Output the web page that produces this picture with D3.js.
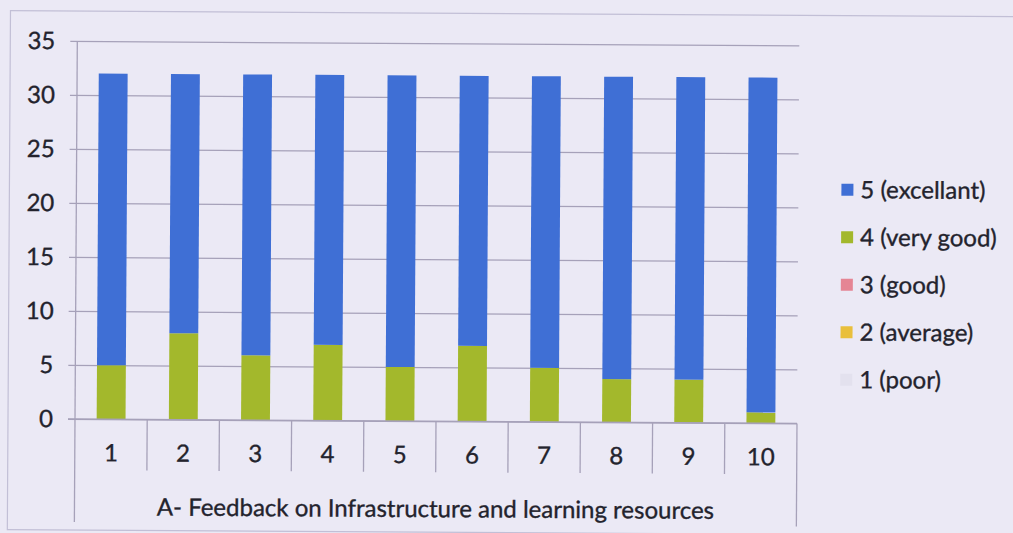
<!DOCTYPE html>
<html>
<head>
<meta charset="utf-8">
<script src="https://cdn.jsdelivr.net/npm/d3@7/dist/d3.min.js"></script>
<style>
  html, body { margin: 0; padding: 0; background: #ebe9f5; }
  svg { display: block; }
  text { font-family: Lato, "Open Sans", sans-serif; fill: #23232d; stroke: #23232d; stroke-width: 0.35px; }
</style>
</head>
<body>
<svg id="chart" width="1013" height="533"></svg>
<script>
// Survey categories (questions 1-10) and counts per rating
const categories = ["1", "2", "3", "4", "5", "6", "7", "8", "9", "10"];
const poor      = [0, 0, 0, 0, 0, 0, 0, 0, 0, 0];
const average   = [0, 0, 0, 0, 0, 0, 0, 0, 0, 0];
const good      = [0, 0, 0, 0, 0, 0, 0, 0, 0, 0];
const veryGood  = [5, 8, 6, 7, 5, 7, 5, 4, 4, 1];
const excellent = [27, 24, 26, 25, 27, 25, 27, 28, 28, 31];

const seriesNames = ["1 (poor)", "2 (average)", "3 (good)", "4 (very good)", "5 (excellant)"];
const seriesValues = [poor, average, good, veryGood, excellent];
const seriesColors = ["#e3e1ee", "#e9bf3c", "#e58594", "#a3b82c", "#3f6fd5"];
const yTicks = [0, 5, 10, 15, 20, 25, 30, 35];
const axisTitle = "A- Feedback on Infrastructure and learning resources";

const svg = d3.select("#chart");
const lineColor = "#a6a1b9";
const fontSize = "24px";

// slight tilt of the whole sheet
const g = svg.append("g").attr("transform", "rotate(0.35,75,419)");

// outer chart frame
g.append("rect")
  .attr("x", 8).attr("y", 11).attr("width", 1040).attr("height", 519)
  .attr("fill", "none").attr("stroke", "#c2bfd6").attr("stroke-width", 1.2);

const x = d3.scaleBand().domain(categories).range([75, 797])
  .paddingInner(0.6).paddingOuter(0.3);
const y = d3.scaleLinear().domain([0, 35]).range([419, 41]);

// value axis with gridlines
const yAxis = g.append("g")
  .attr("transform", "translate(797,0)")
  .call(d3.axisLeft(y).tickValues(yTicks).tickSize(729).tickPadding(15));
yAxis.select(".domain").remove();
yAxis.selectAll("line").attr("stroke", lineColor).attr("stroke-width", 1.3);
yAxis.selectAll("text").style("font-size", fontSize).attr("fill", null);

// stacked bars
const rows = categories.map((c, i) => {
  const r = { cat: c };
  seriesNames.forEach((s, k) => { r[s] = seriesValues[k][i]; });
  return r;
});
const stack = d3.stack().keys(seriesNames)(rows);

g.append("g").selectAll("g").data(stack).join("g")
  .attr("fill", (d, k) => seriesColors[k])
  .selectAll("rect").data(d => d).join("rect")
  .attr("x", d => x(d.data.cat))
  .attr("width", x.bandwidth())
  .attr("y", d => y(d[1]))
  .attr("height", d => y(d[0]) - y(d[1]));

// category axis: boundary lines, labels and title
const y0 = y(0);
const step = x.step();
const bounds = categories.map(c => x(c) + x.bandwidth() / 2 - step / 2);
bounds.push(bounds[bounds.length - 1] + step);

g.append("line")
  .attr("x1", 68).attr("x2", bounds[bounds.length - 1])
  .attr("y1", y0).attr("y2", y0)
  .attr("stroke", lineColor).attr("stroke-width", 1.4);

g.append("line")
  .attr("x1", bounds[0]).attr("x2", bounds[0])
  .attr("y1", y(35)).attr("y2", y0)
  .attr("stroke", lineColor).attr("stroke-width", 1.3);

g.append("g").selectAll("line").data(bounds).join("line")
  .attr("x1", d => d).attr("x2", d => d)
  .attr("y1", y0)
  .attr("y2", (d, i) => (i === 0 || i === bounds.length - 1) ? y0 + 103 : y0 + 51)
  .attr("stroke", lineColor).attr("stroke-width", 1.3);

const xAxis = g.append("g")
  .attr("transform", `translate(0,${y0})`)
  .call(d3.axisBottom(x).tickSize(0).tickPadding(25));
xAxis.select(".domain").remove();
xAxis.selectAll("text").style("font-size", fontSize).attr("fill", null);

g.append("text")
  .attr("x", (bounds[0] + bounds[bounds.length - 1]) / 2)
  .attr("y", 515)
  .attr("text-anchor", "middle")
  .style("font-size", fontSize)
  .text(axisTitle);

// legend
const legend = g.append("g").selectAll("g")
  .data(seriesNames.map((s, k) => ({ s, k })).reverse())
  .join("g")
  .attr("transform", (d, i) => `translate(840,${185 + i * 47.5})`);
legend.append("rect")
  .attr("x", 0).attr("y", -6).attr("width", 12).attr("height", 12)
  .attr("fill", d => seriesColors[d.k]);
legend.append("text")
  .attr("x", 19).attr("y", 0).attr("dy", "0.35em")
  .style("font-size", fontSize)
  .text(d => d.s);
</script>
</body>
</html>
